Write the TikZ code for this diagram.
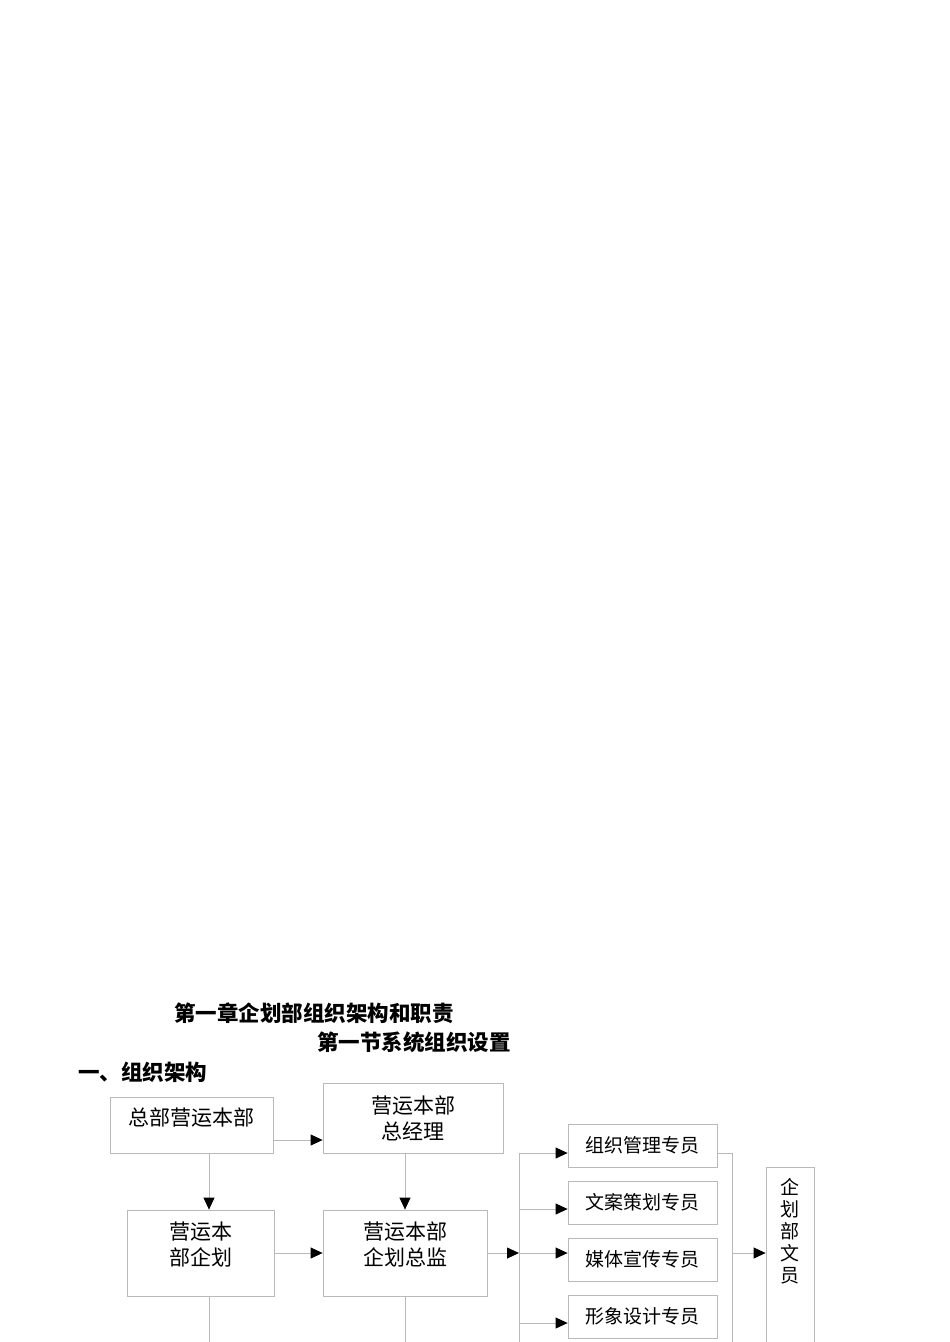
\documentclass[tikz,border=0pt]{standalone}
\usepackage{fontspec}
\setmainfont{Noto Sans CJK SC}
\usetikzlibrary{arrows.meta,positioning,calc}

\begin{document}
\begin{tikzpicture}[x=1pt, y=-1pt,
    % 基本样式
    unit/.style={rectangle, draw=gray!55, line width=0.8pt, align=center, inner sep=0pt, font=\fontsize{21}{26}\selectfont},
    staff/.style={rectangle, draw=gray!55, line width=0.8pt, minimum width=149pt, minimum height=43pt, inner sep=0pt, font=\fontsize{19}{22}\selectfont},
    % 连线
    link/.style={draw=gray!55, line width=0.8pt},
    linkto/.style={link, -{Triangle[length=12pt, width=11pt, black]}},
    % 标题
    title/.style={inner sep=0pt, font=\fontsize{21.5}{24}\selectfont\bfseries}
]

\useasboundingbox (0,0) rectangle (950,1342);
\clip (0,0) rectangle (950,1342);

% === 标题 ===
\node[title] (chap) at (314,1013) {第一章企划部组织架构和职责};
\node[title] (sect) at (414,1042) {第一节系统组织设置};
\node[title, anchor=west] (part) at (78,1072) {一、组织架构};

% === 部门 ===
\node[unit, minimum width=163pt, minimum height=56pt, text depth=16pt] (hq) at (191.5,1125) {总部营运本部};
\node[unit, minimum width=180pt, minimum height=70pt] (gm) at (413,1118) {营运本部\\总经理};
\node[unit, minimum width=147pt, minimum height=86pt, text depth=19pt] (plan) at (200.5,1253) {营运本\\部企划};
\node[unit, minimum width=164pt, minimum height=86pt, text depth=19pt] (dir) at (405,1253) {营运本部\\企划总监};

% === 专员 ===
\node[staff] (org) at (642.5,1145.5) {组织管理专员};
\node[staff] (copy) at (642.5,1202.5) {文案策划专员};
\node[staff] (media) at (642.5,1259.5) {媒体宣传专员};
\node[staff] (image) at (642.5,1316.5) {形象设计专员};

% 文员 (竖排)
\node[rectangle, draw=gray!55, line width=0.8pt, anchor=north, minimum width=48pt, minimum height=220pt,
    label={[inner sep=0pt, align=center, anchor=north, yshift=-11pt, font=\fontsize{19}{22}\selectfont]north:企\\划\\部\\文\\员}] (clerk) at (790,1167) {};

% === 连线 ===
\coordinate (rowA) at (0,1140);
\coordinate (colA) at (209,0);
\coordinate (busL) at (519,1153);
\coordinate (busLend) at (519,1350);
\coordinate (busR) at (732,1153);
\coordinate (busRend) at (732,1350);
\coordinate (b2) at (519,1209);
\coordinate (b4) at (519,1323);

\draw[linkto] (hq.east |- rowA) -- (gm.west |- rowA);
\draw[linkto] (hq.south -| colA) -- (plan.north -| colA);
\draw[linkto] (gm.south -| dir.north) -- (dir.north);
\draw[linkto] (plan) -- (dir);
\draw[linkto] (dir) -- (dir -| busL);
\draw[link] (plan.south -| colA) -- (colA |- busLend);
\draw[link] (dir.south) -- (dir.south |- busLend);

% 左侧总线
\draw[link] (busL) -- (busLend);
\draw[linkto] (busL) -- (busL -| org.west);
\draw[linkto] (b2) -- (b2 -| copy.west);
\draw[linkto] (dir -| busL) -- (media.west |- dir);
\draw[linkto] (b4) -- (b4 -| image.west);

% 右侧总线
\draw[link] (org.east |- busR) -- (busR) -- (busRend);
\draw[linkto] (busR |- dir) -- (clerk.west |- dir);

\end{tikzpicture}
\end{document}
